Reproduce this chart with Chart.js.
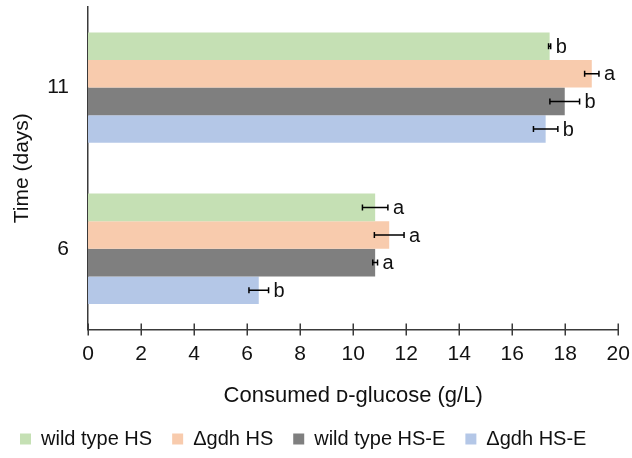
<!DOCTYPE html>
<html>
<head>
<meta charset="utf-8">
<script src="https://cdn.jsdelivr.net/npm/chart.js@4.4.1/dist/chart.umd.min.js"></script>
<style>
  html, body { margin: 0; padding: 0; background: #fff; }
  #wrap { width: 632px; height: 458px; }
</style>
</head>
<body>
<div id="wrap"><canvas id="chart" width="632" height="458"></canvas></div>
<script>
// Time points (days)
const categories = ['11', '6'];

// Consumed D-glucose (g/L) per strain / medium
const wildTypeHS  = [17.41, 10.83];
const gdhHS       = [19.00, 11.36];
const wildTypeHSE = [17.98, 10.83];
const gdhHSE      = [17.26, 6.44];

// Standard deviations
const wildTypeHSErr  = [0.04, 0.48];
const gdhHSErr       = [0.27, 0.56];
const wildTypeHSEErr = [0.56, 0.09];
const gdhHSEErr      = [0.46, 0.37];

// Significance letters
const wildTypeHSSig  = ['b', 'a'];
const gdhHSSig       = ['a', 'a'];
const wildTypeHSESig = ['b', 'a'];
const gdhHSESig      = ['b', 'b'];

// Axis ticks
const xTicks = [0, 2, 4, 6, 8, 10, 12, 14, 16, 18, 20];

const FONT = '"Liberation Sans", Arial, "DejaVu Sans", sans-serif';
const INK = '#111';
const AXIS = '#3a3a3a';

// Error bars with caps, plus significance letters beyond each bar
const errorLetters = {
  id: 'errorLetters',
  afterDatasetsDraw(chart) {
    const ctx = chart.ctx;
    const x = chart.scales.x;
    chart.data.datasets.forEach((ds, di) => {
      const meta = chart.getDatasetMeta(di);
      meta.data.forEach((bar, i) => {
        const v = ds.data[i];
        const e = ds.errors[i];
        const xl = x.getPixelForValue(v - e);
        const xr = x.getPixelForValue(v + e);
        const y = bar.y;
        ctx.save();
        ctx.strokeStyle = '#000';
        ctx.lineWidth = 1.5;
        ctx.beginPath();
        ctx.moveTo(xl, y); ctx.lineTo(xr, y);
        ctx.moveTo(xl, y - 3); ctx.lineTo(xl, y + 3);
        ctx.moveTo(xr, y - 3); ctx.lineTo(xr, y + 3);
        ctx.stroke();
        ctx.fillStyle = INK;
        ctx.font = '20px ' + FONT;
        ctx.textAlign = 'left';
        ctx.textBaseline = 'middle';
        ctx.fillText(ds.letters[i], xr + 5, y + 1);
        ctx.restore();
      });
    });
  }
};

// Tick marks that cross the value axis line
const crossTicks = {
  id: 'crossTicks',
  afterDraw(chart) {
    const ctx = chart.ctx;
    const x = chart.scales.x;
    const yb = chart.chartArea.bottom;
    ctx.save();
    ctx.strokeStyle = AXIS;
    ctx.lineWidth = 1.5;
    ctx.beginPath();
    x.ticks.forEach((t, i) => {
      const px = Math.round(x.getPixelForTick(i)) + 0.25;
      ctx.moveTo(px, yb - 6);
      ctx.lineTo(px, yb + 6);
    });
    ctx.stroke();
    ctx.restore();
  }
};

new Chart(document.getElementById('chart'), {
  type: 'bar',
  data: {
    labels: categories,
    datasets: [
      { label: 'wild type HS',  data: wildTypeHS,  errors: wildTypeHSErr,  letters: wildTypeHSSig,  backgroundColor: '#C5E0B4' },
      { label: 'Δgdh HS',       data: gdhHS,       errors: gdhHSErr,       letters: gdhHSSig,       backgroundColor: '#F8CBAD' },
      { label: 'wild type HS-E',data: wildTypeHSE, errors: wildTypeHSEErr, letters: wildTypeHSESig, backgroundColor: '#7F7F7F' },
      { label: 'Δgdh HS-E',     data: gdhHSE,      errors: gdhHSEErr,      letters: gdhHSESig,      backgroundColor: '#B4C7E7' }
    ]
  },
  options: {
    indexAxis: 'y',
    responsive: false,
    animation: false,
    devicePixelRatio: 1,
    categoryPercentage: 0.685,
    barPercentage: 1.0,
    layout: { padding: { top: 7, right: 0, bottom: -1, left: 0 } },
    plugins: {
      tooltip: { enabled: false },
      legend: {
        position: 'bottom',
        align: 'start',
        labels: {
          font: { family: FONT, size: 20 },
          color: INK,
          boxWidth: 11,
          boxHeight: 11,
          padding: 20
        }
      }
    },
    scales: {
      x: {
        min: 0,
        max: 20,
        afterBuildTicks(scale) { scale.ticks = xTicks.map(v => ({ value: v })); },
        afterFit(scale) { scale.paddingLeft = 0; scale.paddingRight = 13.7; },
        grid: { display: false, drawTicks: false },
        border: { display: true, color: AXIS, width: 1.5 },
        ticks: { font: { family: FONT, size: 21 }, color: INK, padding: 12 },
        title: {
          display: true,
          text: 'Consumed ᴅ-glucose (g/L)',
          font: { family: FONT, size: 22 },
          color: INK,
          padding: { top: 4, bottom: 0 }
        }
      },
      y: {
        afterFit(scale) { scale.width = 88; scale.paddingTop = 0; scale.paddingBottom = 0; },
        grid: { display: false, drawTicks: false },
        border: { display: true, color: AXIS, width: 1.5 },
        ticks: { font: { family: FONT, size: 21 }, color: INK, padding: 19 },
        title: {
          display: true,
          text: 'Time (days)',
          font: { family: FONT, size: 21 },
          color: INK,
          padding: { top: 10, bottom: 0 }
        }
      }
    }
  },
  plugins: [errorLetters, crossTicks]
});
</script>
</body>
</html>
